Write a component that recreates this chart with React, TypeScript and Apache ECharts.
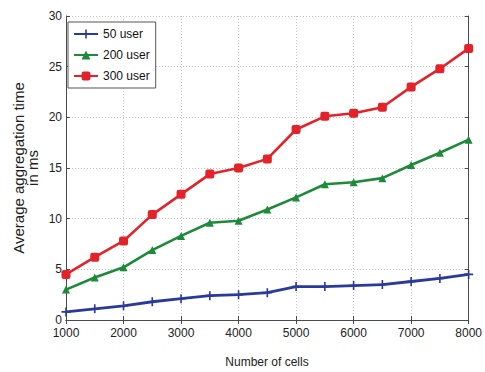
import React, { useEffect, useRef } from "react";
import * as echarts from "echarts";

const cells = [1000, 1500, 2000, 2500, 3000, 3500, 4000, 4500, 5000, 5500, 6000, 6500, 7000, 7500, 8000];
const user50 = [0.8, 1.1, 1.4, 1.8, 2.1, 2.4, 2.5, 2.7, 3.3, 3.3, 3.4, 3.5, 3.8, 4.1, 4.5];
const user200 = [3.0, 4.2, 5.2, 6.9, 8.3, 9.6, 9.8, 10.9, 12.1, 13.4, 13.6, 14.0, 15.3, 16.5, 17.8];
const user300 = [4.5, 6.2, 7.8, 10.4, 12.4, 14.4, 15.0, 15.9, 18.8, 20.1, 20.4, 21.0, 23.0, 24.8, 26.8];
const seriesNames = ["50 user", "200 user", "300 user"];
const seriesColors = ["#2a3a9c", "#1d8a3a", "#e3222a"];
const yTitle = ["Average aggregation time", "in ms"];
const xTitle = "Number of cells";

const FONT = "Liberation Sans, Arial, sans-serif";
const PLUS = "path://M-0.9,-5 H0.9 V-0.9 H5 V0.9 H0.9 V5 H-0.9 V0.9 H-5 V-0.9 H-0.9 Z";

export default function App() {
  const ref = useRef<HTMLDivElement>(null);
  useEffect(() => {
    if (!ref.current) return;
    const chart = echarts.init(ref.current, undefined, { renderer: "svg" });
    const pairs = (ys: number[]) => cells.map((c, i) => [c, ys[i]]);
    const frame = { show: true, lineStyle: { color: "#4a4a4a", width: 1 } };
    const tick = { show: true, inside: true, length: 4, lineStyle: { color: "#4a4a4a" } };
    const grid = { show: true, lineStyle: { color: "#c4c4c4", type: [1, 2], width: 1 } };
    chart.setOption({
      animation: false,
      backgroundColor: "#ffffff",
      grid: { left: 66, right: 16, top: 16, bottom: 52, containLabel: false },
      graphic: [
        {
          type: "text",
          x: 18,
          y: 168,
          rotation: Math.PI / 2,
          style: { text: yTitle[0], font: "15px " + FONT, fill: "#222222", textAlign: "center", textVerticalAlign: "middle" },
        },
        {
          type: "text",
          x: 32,
          y: 168,
          rotation: Math.PI / 2,
          style: { text: yTitle[1], font: "15px " + FONT, fill: "#222222", textAlign: "center", textVerticalAlign: "middle" },
        },
        {
          type: "text",
          x: 267,
          y: 362,
          style: { text: xTitle, font: "12px " + FONT, fill: "#222222", textAlign: "center", textVerticalAlign: "middle" },
        },
      ],
      legend: {
        orient: "vertical",
        left: 68,
        top: 22,
        padding: [6, 6, 6, 5],
        itemGap: 9,
        itemWidth: 24,
        itemHeight: 11,
        backgroundColor: "#ffffff",
        borderColor: "#555555",
        borderWidth: 1,
        borderRadius: 0,
        data: seriesNames,
        textStyle: { fontFamily: FONT, fontSize: 12, color: "#111111" },
      },
      xAxis: [
        {
          type: "value",
          min: 1000,
          max: 8000,
          interval: 1000,
          axisLine: frame,
          axisTick: tick,
          splitLine: grid,
          axisLabel: { fontFamily: FONT, fontSize: 12, color: "#222222", margin: 7, formatter: (v: number) => String(v) },
        },
        {
          type: "value",
          position: "top",
          min: 1000,
          max: 8000,
          interval: 1000,
          axisLine: frame,
          axisTick: tick,
          splitLine: { show: false },
          axisLabel: { show: false },
        },
      ],
      yAxis: [
        {
          type: "value",
          min: 0,
          max: 30,
          interval: 5,
          axisLine: frame,
          axisTick: tick,
          splitLine: grid,
          axisLabel: { fontFamily: FONT, fontSize: 12, color: "#222222", margin: 4 },
        },
        {
          type: "value",
          position: "right",
          min: 0,
          max: 30,
          interval: 5,
          axisLine: frame,
          axisTick: tick,
          splitLine: { show: false },
          axisLabel: { show: false },
        },
      ],
      series: [
        {
          name: seriesNames[0],
          type: "line",
          data: pairs(user50),
          color: seriesColors[0],
          lineStyle: { width: 2.8 },
          symbol: PLUS,
          symbolSize: 9,
          itemStyle: { color: seriesColors[0] },
        },
        {
          name: seriesNames[1],
          type: "line",
          data: pairs(user200),
          color: seriesColors[1],
          lineStyle: { width: 2.6 },
          symbol: "triangle",
          symbolSize: 8,
          itemStyle: { color: seriesColors[1] },
        },
        {
          name: seriesNames[2],
          type: "line",
          data: pairs(user300),
          color: seriesColors[2],
          lineStyle: { width: 2.6 },
          symbol: "roundRect",
          symbolSize: 9,
          itemStyle: { color: seriesColors[2] },
        },
      ],
    });
    return () => chart.dispose();
  }, []);
  return (
    <div
      ref={ref}
      style={{ position: "fixed", left: 0, top: 0, width: 485, height: 372, background: "#fff" }}
    />
  );
}
